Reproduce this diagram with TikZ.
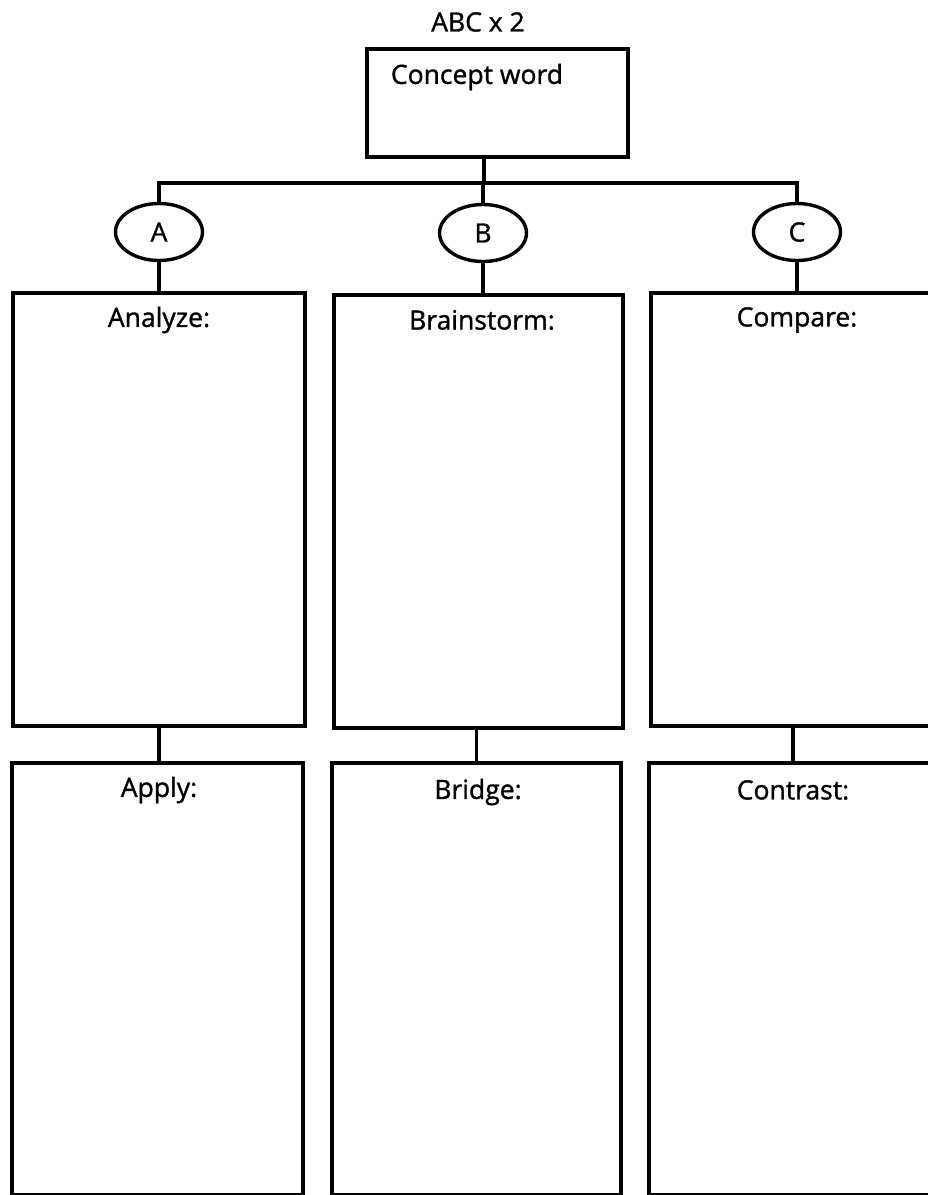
\documentclass[tikz,border=0pt]{standalone}
\usepackage{fontspec}
\setmainfont{Open Sans}[FakeBold=1.2]
\usetikzlibrary{positioning,shapes.geometric}

\begin{document}
\begin{tikzpicture}[x=1pt, y=-1pt, line width=3.4pt,
  box/.style={draw, rectangle, inner sep=0pt},
  letter/.style={draw, ellipse, minimum width=87pt, minimum height=57pt, inner sep=0pt},
  lbl/.style={inner sep=0pt, font=\fontsize{26.5}{30}\selectfont}]
  \clip (0,0) rectangle (928,1195);
  % title and concept box
  \node[lbl] (title) at (478,22) {ABC x 2};
  \node[box, minimum width=261pt, minimum height=108pt] (cw) at (497.5,103) {};
  \node[lbl] (cw-t) at (477,77) {Concept word};
  \coordinate (bar) at (484,183);

  % the three letters
  \node[letter, lbl] (ea) at (159,232) {A};
  \node[letter, lbl] (eb) at (483,233) {B};
  \node[letter, lbl] (ec) at (797,232) {C};

  % upper boxes
  \node[box, minimum width=292pt, minimum height=433pt] (an) at (159,509.5) {};
  \node[box, minimum width=289pt, minimum height=433pt] (bs) at (478.5,511.5) {};
  \node[box, minimum width=290pt, minimum height=433pt] (cp) at (796,509.5) {};
  \node[lbl] (an-t) at (159,320) {Analyze:};
  \node[lbl] (bs-t) at (482,320) {Brainstorm:};
  \node[lbl] (cp-t) at (797,320) {Compare:};

  % lower boxes
  \node[box, minimum width=291pt, minimum height=432pt] (ap) at (157.5,979) {};
  \node[box, minimum width=289pt, minimum height=432pt] (br) at (476.5,979) {};
  \node[box, minimum width=288pt, minimum height=432pt] (ct) at (793,979) {};
  \node[lbl] (ap-t) at (159,790) {Apply:};
  \node[lbl] (br-t) at (478,792) {Bridge:};
  \node[lbl] (ct-t) at (793,790) {Contrast:};

  % connectors
  \draw (bar |- cw.south) -- (bar);
  \draw (ea.north) |- (bar) -| (ec.north);
  \draw (eb.north) -- (eb.north |- bar);
  \draw (ea.south) -- (ea.south |- an.north);
  \draw (eb.south) -- (eb.south |- bs.north);
  \draw (ec.south) -- (ec.south |- cp.north);
  \draw (an.south) -- (an.south |- ap.north);
  \draw (br.north) -- (br.north |- bs.south);
  \draw (ct.north) -- (ct.north |- cp.south);
\end{tikzpicture}
\end{document}
